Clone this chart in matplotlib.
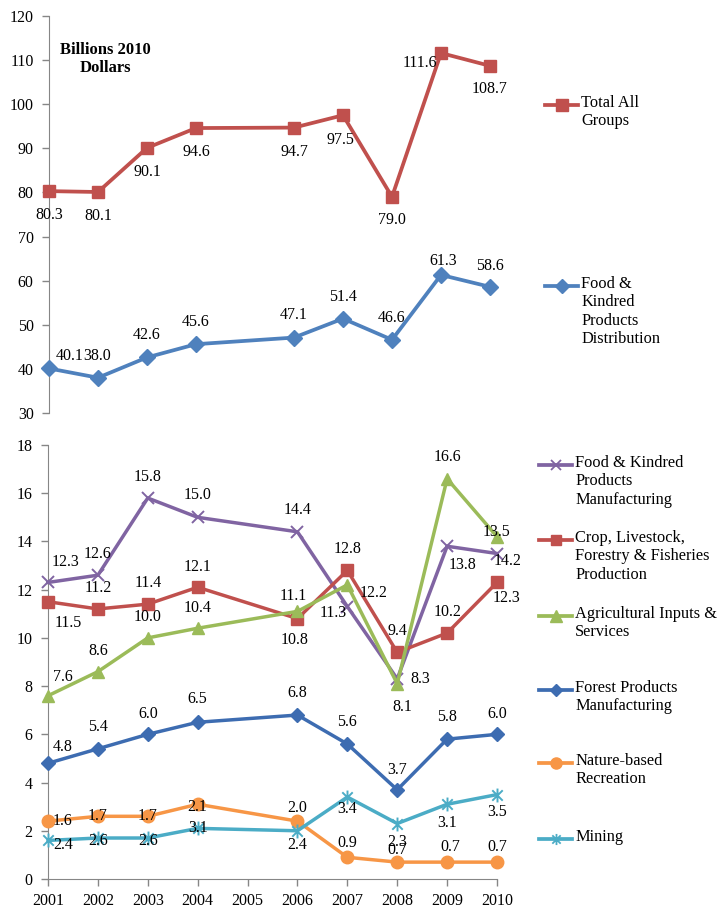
import matplotlib
matplotlib.use("Agg")
import matplotlib.pyplot as plt
from matplotlib.lines import Line2D
from matplotlib.path import Path

plt.rcParams['font.family'] = ['Liberation Serif', 'DejaVu Serif']

# ---------------- data ----------------
years = [2001, 2002, 2003, 2004, 2006, 2007, 2008, 2009, 2010]
year_ticks = list(range(2001, 2011))

total = [80.3, 80.1, 90.1, 94.6, 94.7, 97.5, 79.0, 111.6, 108.7]
food_dist = [40.1, 38.0, 42.6, 45.6, 47.1, 51.4, 46.6, 61.3, 58.6]

food_mfg = [12.3, 12.6, 15.8, 15.0, 14.4, 11.3, 8.3, 13.8, 13.5]
crop = [11.5, 11.2, 11.4, 12.1, 10.8, 12.8, 9.4, 10.2, 12.3]
agri = [7.6, 8.6, 10.0, 10.4, 11.1, 12.2, 8.1, 16.6, 14.2]
forest = [4.8, 5.4, 6.0, 6.5, 6.8, 5.6, 3.7, 5.8, 6.0]
nature = [2.4, 2.6, 2.6, 3.1, 2.4, 0.9, 0.7, 0.7, 0.7]
mining = [1.6, 1.7, 1.7, 2.1, 2.0, 3.4, 2.3, 3.1, 3.5]

# data labels as printed in the original chart
total_labels = ["80.3", "80.1", "90.1", "94.6", "94.7", "97.5", "79.0", "111.6", "108.7"]
food_dist_labels = ["40.1", "38.0", "42.6", "45.6", "47.1", "51.4", "46.6", "61.3", "58.6"]
food_mfg_labels = ["12.3", "12.6", "15.8", "15.0", "14.4", "11.3", "8.3", "13.8", "14.2"]
crop_labels = ["11.5", "11.2", "11.4", "12.1", "10.8", "12.8", "9.4", "10.2", "12.3"]
agri_labels = ["7.6", "8.6", "10.0", "10.4", "11.1", "12.2", "8.1", "16.6", "13.5"]
forest_labels = ["4.8", "5.4", "6.0", "6.5", "6.8", "5.6", "3.7", "5.8", "6.0"]
nature_labels = ["1.6", "1.7", "1.7", "2.1", "2.0", "0.9", "0.7", "0.7", "0.7"]
mining_labels = ["2.4", "2.6", "2.6", "3.1", "2.4", "3.4", "2.3", "3.1", "3.5"]

names_top = ["Total All\nGroups", "Food &\nKindred\nProducts\nDistribution"]
names_bottom = ["Food & Kindred\nProducts\nManufacturing",
                "Crop, Livestock,\nForestry & Fisheries\nProduction",
                "Agricultural Inputs &\nServices",
                "Forest Products\nManufacturing",
                "Nature-based\nRecreation",
                "Mining"]

# ---------------- layout / style ----------------
W, H = 721, 909
RED = '#C0504D'
BLUE = '#4F81BD'
PURPLE = '#8064A2'
GREEN = '#9BBB59'
DBLUE = '#3D6CB1'
ORANGE = '#F79646'
TEAL = '#4BACC6'
GRAY = '#868686'
FS = 11.5

star = Path([(0, -1), (0, 1), (-0.75, -0.75), (0.75, 0.75), (-0.75, 0.75), (0.75, -0.75)],
            [Path.MOVETO, Path.LINETO, Path.MOVETO, Path.LINETO, Path.MOVETO, Path.LINETO])

# label offsets in pixels (dx right, dy down)
off_total = [(0, 24), (0, 24), (0, 24), (0, 24), (0, 24), (-3, 25), (0, 23), (-21, 10), (0, 23)]
off_fdist = [(21, -12), (-1, -22), (0, -22), (0, -22), (0, -23), (0, -22), (0, -22), (2, -14), (0, -21)]
off_fmfg = [(18, -20), (0, -21), (0, -21), (0, -22), (0, -22), (-14, 6), (23, 0), (15, 19), (11, 7)]
off_crop = [(20, 21), (0, -21), (0, -21), (0, -20), (-3, 21), (0, -21), (0, -21), (0, -21), (10, 16)]
off_agri = [(15, -19), (0, -21), (0, -21), (0, -20), (-4, -15), (26, 8), (5, 23), (0, -22), (0, -5)]
off_forest = [(15, -16), (0, -22), (0, -20), (0, -23), (0, -22), (0, -22), (0, -20), (0, -22), (0, -20)]
off_nature = [(15, 0), (0, 0), (0, 0), (0, 3), (0, -13), (0, -14), (0, -12), (3, -15), (0, -15)]
off_mining = [(15, 5), (0, 3), (0, 3), (0, 0), (0, 14), (0, 12), (0, 18), (0, 19), (0, 17)]

fig = plt.figure(figsize=(W / 100, H / 100), dpi=100)

def fx(x):
    return x / W

def fy(y):
    return 1 - y / H

ax1 = fig.add_axes([fx(49), fy(413), (490 - 49) / W, (413 - 16) / H])
ax2 = fig.add_axes([fx(48), fy(879), (497 - 48) / W, (879 - 445) / H])

def style_axis(ax, show_x):
    for s in ['top', 'right']:
        ax.spines[s].set_visible(False)
    ax.spines['left'].set_color(GRAY)
    ax.spines['bottom'].set_color(GRAY)
    ax.spines['bottom'].set_visible(show_x)
    ax.tick_params(axis='y', direction='out', length=5, width=1, color=GRAY,
                   labelsize=FS, pad=6)
    ax.tick_params(axis='x', direction='out', length=5, width=1, color=GRAY,
                   labelsize=FS, pad=5)
    ax.set_facecolor('none')

def draw(ax, vals, labels, offs, color, marker, ms, lw=2.7, mew=1.0):
    mfc = color if marker not in ('x', star) else 'none'
    ax.plot(years, vals, color=color, lw=lw, marker=marker, ms=ms,
            mfc=mfc, mec=color, mew=mew, clip_on=False, zorder=3)
    for x, v, lab, (dx, dy) in zip(years, vals, labels, offs):
        ax.annotate(lab, (x, v), xytext=(dx, -dy), textcoords='offset pixels',
                    ha='center', va='center', fontsize=FS, color='black', zorder=5)

# top panel
draw(ax1, total, total_labels, off_total, RED, 's', 9)
draw(ax1, food_dist, food_dist_labels, off_fdist, BLUE, 'D', 8)
ax1.set_xlim(2001, 2010)
ax1.set_ylim(30, 120)
ax1.set_yticks(range(30, 121, 10))
ax1.set_xticks([])
style_axis(ax1, False)
fig.text(fx(105), fy(59), 'Billions 2010\nDollars', ha='center', va='center',
         fontsize=12, fontweight='bold', multialignment='center', linespacing=1.15)

# bottom panel
draw(ax2, food_mfg, food_mfg_labels, off_fmfg, PURPLE, 'x', 8.5, lw=2.5, mew=1.4)
draw(ax2, crop, crop_labels, off_crop, RED, 's', 8, lw=2.5)
draw(ax2, agri, agri_labels, off_agri, GREEN, '^', 9, lw=2.5)
draw(ax2, forest, forest_labels, off_forest, DBLUE, 'D', 7.5, lw=2.5)
draw(ax2, nature, nature_labels, off_nature, ORANGE, 'o', 9, lw=2.5)
draw(ax2, mining, mining_labels, off_mining, TEAL, star, 10, lw=2.5, mew=1.4)
ax2.set_xlim(2001, 2010)
ax2.set_ylim(0, 18)
ax2.set_yticks(range(0, 19, 2))
ax2.set_xticks(year_ticks)
ax2.set_xticklabels([str(y) for y in year_ticks])
style_axis(ax2, True)

# legends (drawn manually so the handle aligns with the first text line)
def legend_entry(x0, x1, y, color, marker, ms, text, mew=1.0):
    mfc = color if marker not in ('x', star) else 'none'
    fig.add_artist(Line2D([fx(x0), fx(x1)], [fy(y), fy(y)], transform=fig.transFigure,
                          color=color, lw=2.7))
    fig.add_artist(Line2D([fx((x0 + x1) / 2)], [fy(y)], transform=fig.transFigure,
                          marker=marker, ms=ms, mfc=mfc, mec=color, mew=mew, lw=0))
    fig.text(fx(x1 + 3), fy(y - 10), text, ha='left', va='top', fontsize=11.8,
             linespacing=1.2)

legend_entry(545, 578, 105, RED, 's', 8, names_top[0])
legend_entry(545, 578, 286, BLUE, 'D', 7, names_top[1])

leg_y = [465, 540, 616, 690, 763, 839]
leg_style = [(PURPLE, 'x', 7, 1.3), (RED, 's', 7.5, 1.0), (GREEN, '^', 8, 1.0),
             (DBLUE, 'D', 6.5, 1.0), (ORANGE, 'o', 8, 1.0), (TEAL, star, 8, 1.3)]
for y, (c, m, ms, mew), name in zip(leg_y, leg_style, names_bottom):
    legend_entry(539, 572, y, c, m, ms, name, mew)

fig.savefig('out.png', dpi=100)
